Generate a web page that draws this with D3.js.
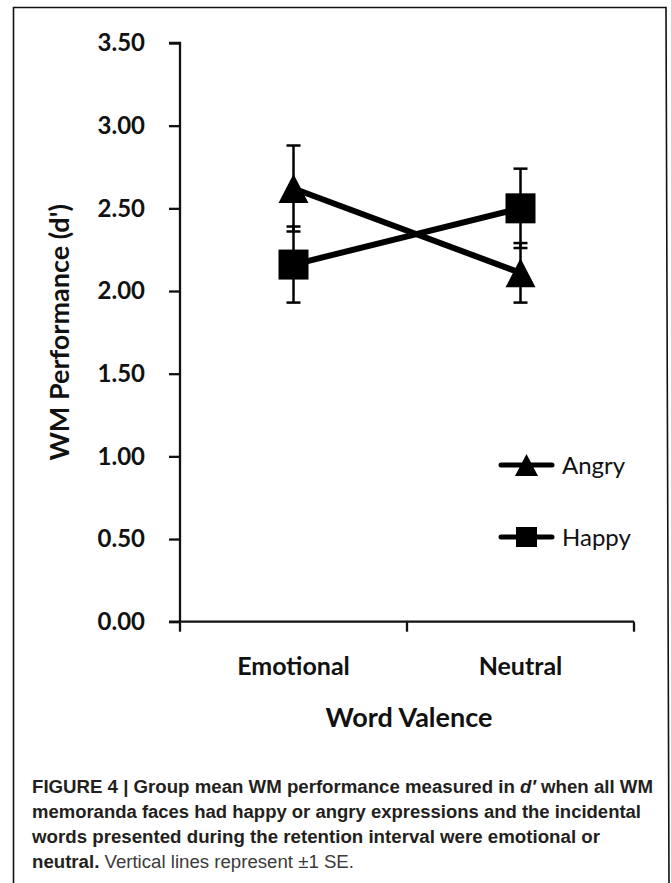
<!DOCTYPE html>
<html>
<head>
<meta charset="utf-8">
<script src="https://cdn.jsdelivr.net/npm/d3@7"></script>
<style>
  html, body { margin: 0; padding: 0; background: #fff; }
  svg { display: block; }
</style>
</head>
<body>
<script>
// values
var categories = ["Emotional", "Neutral"];
var seriesNames = ["Angry", "Happy"];
var angryMean = [2.62, 2.11];
var angrySE = [0.26, 0.18];
var happyMean = [2.16, 2.50];
var happySE = [0.23, 0.24];
var yTicks = [0, 0.5, 1, 1.5, 2, 2.5, 3, 3.5];

var captionLines = [
  [{ t: "FIGURE 4 | Group mean WM performance measured in ", b: 1 }, { t: "d\u2032", b: 1, i: 1 }, { t: " when all WM", b: 1 }],
  [{ t: "memoranda faces had happy or angry expressions and the incidental", b: 1 }],
  [{ t: "words presented during the retention interval were emotional or", b: 1 }],
  [{ t: "neutral.", b: 1 }, { t: " Vertical lines represent \u00b11 SE.", b: 0 }]
];
var captionWidths = [621, 609, 568, 322];

var W = 671, H = 883;
var svg = d3.select("body").append("svg")
    .attr("width", W)
    .attr("height", H);

// frame of the figure
svg.append("path")
    .attr("d", "M13.5,883 L13.5,7.5 L666,7.5 L669,883")
    .attr("fill", "none")
    .attr("stroke", "#111")
    .attr("stroke-width", 1.6);

var plotLeft = 180, plotRight = 634, plotTop = 43, plotBottom = 621.7;

var x = d3.scaleBand().domain(categories).range([plotLeft, plotRight]);
var y = d3.scaleLinear().domain([0, 3.5]).range([plotBottom, plotTop]);

var font = "Lato, 'Open Sans', sans-serif";

// y axis
var yAxis = svg.append("g")
    .attr("transform", "translate(" + plotLeft + ",0)")
    .call(d3.axisLeft(y).tickValues(yTicks).tickSize(11).tickPadding(24)
      .tickFormat(d3.format(".2f")));
yAxis.select(".domain").attr("stroke", "#111").attr("stroke-width", 2.3)
    .attr("d", "M-11," + y(3.5) + "H0V" + plotBottom);
yAxis.selectAll(".tick line").attr("stroke", "#111").attr("stroke-width", 2.3);
yAxis.selectAll(".tick text")
    .attr("font-family", font)
    .attr("font-weight", "bold")
    .attr("font-size", 24)
    .attr("fill", "#111");

// x axis, ticks between categories
var xAxisG = svg.append("g").attr("transform", "translate(0," + plotBottom + ")");
xAxisG.append("line")
    .attr("x1", plotLeft - 11).attr("x2", plotRight)
    .attr("stroke", "#111").attr("stroke-width", 2.3);
var bounds = [x.range()[0]].concat(categories.map(function(c) { return x(c) + x.bandwidth(); }));
xAxisG.selectAll(".xt").data(bounds).enter().append("line")
    .attr("x1", function(d) { return d; })
    .attr("x2", function(d) { return d; })
    .attr("y1", 0).attr("y2", 10)
    .attr("stroke", "#111").attr("stroke-width", 2.3);
xAxisG.selectAll(".xl").data(categories).enter().append("text")
    .attr("x", function(d) { return x(d) + x.bandwidth() / 2; })
    .attr("y", 53)
    .attr("text-anchor", "middle")
    .attr("font-family", font)
    .attr("font-weight", "bold")
    .attr("font-size", 25)
    .attr("fill", "#111")
    .text(function(d) { return d; });

// axis titles
svg.append("text")
    .attr("x", (plotLeft + plotRight) / 2 + 2).attr("y", 727)
    .attr("text-anchor", "middle")
    .attr("font-family", font).attr("font-weight", "bold").attr("font-size", 27)
    .attr("fill", "#111")
    .text("Word Valence");

svg.append("text")
    .attr("transform", "translate(69," + (plotTop + plotBottom) / 2 + ") rotate(-90)")
    .attr("text-anchor", "middle")
    .attr("font-family", font).attr("font-weight", "bold").attr("font-size", 27)
    .attr("fill", "#111")
    .text("WM Performance (d')");

function triangle(cx, cy, w, h) {
  var p = d3.path();
  p.moveTo(cx, cy - h / 2);
  p.lineTo(cx + w / 2, cy + h / 2);
  p.lineTo(cx - w / 2, cy + h / 2);
  p.closePath();
  return p.toString();
}

var series = [
  { name: seriesNames[0], mean: angryMean, se: angrySE, shape: "tri" },
  { name: seriesNames[1], mean: happyMean, se: happySE, shape: "sq" }
];

var cx = function(i) { return x(categories[i]) + x.bandwidth() / 2; };
var line = d3.line()
    .x(function(d, i) { return cx(i); })
    .y(function(d) { return y(d); });

// connecting lines
series.forEach(function(s) {
  svg.append("path")
      .attr("d", line(s.mean))
      .attr("fill", "none")
      .attr("stroke", "#000")
      .attr("stroke-width", 6);
});

// error bars
series.forEach(function(s) {
  var g = svg.append("g");
  s.mean.forEach(function(m, i) {
    var hi = y(m + s.se[i]), lo = y(m - s.se[i]);
    g.append("line").attr("x1", cx(i)).attr("x2", cx(i))
        .attr("y1", hi).attr("y2", lo)
        .attr("stroke", "#000").attr("stroke-width", 2.5);
    [hi, lo].forEach(function(v) {
      g.append("line").attr("x1", cx(i) - 7).attr("x2", cx(i) + 7)
          .attr("y1", v).attr("y2", v)
          .attr("stroke", "#000").attr("stroke-width", 2.5);
    });
  });
});

// markers
series.forEach(function(s) {
  s.mean.forEach(function(m, i) {
    if (s.shape === "tri") {
      svg.append("path").attr("d", triangle(cx(i), y(m), 30, 29)).attr("fill", "#000");
    } else {
      svg.append("rect")
          .attr("x", cx(i) - 15).attr("y", y(m) - 15)
          .attr("width", 30).attr("height", 30)
          .attr("fill", "#000");
    }
  });
});

// legend
var legend = svg.append("g");
var legendY = [465, 537];
series.forEach(function(s, k) {
  var ly = legendY[k];
  legend.append("line")
      .attr("x1", 501).attr("x2", 552)
      .attr("y1", ly).attr("y2", ly)
      .attr("stroke", "#000").attr("stroke-width", 5)
      .attr("stroke-linecap", "round");
  if (s.shape === "tri") {
    legend.append("path").attr("d", triangle(526.5, ly, 23, 22)).attr("fill", "#000");
  } else {
    legend.append("rect").attr("x", 516).attr("y", ly - 10)
        .attr("width", 21).attr("height", 20).attr("fill", "#000");
  }
  legend.append("text")
      .attr("x", 562).attr("y", ly + 8.5)
      .attr("font-family", font).attr("font-size", 24)
      .attr("fill", "#111")
      .text(s.name);
});

// caption
var capFont = "'Liberation Sans', Arial, sans-serif";
captionLines.forEach(function(parts, k) {
  var t = svg.append("text")
      .attr("x", 32).attr("y", 793 + k * 25)
      .attr("font-family", capFont)
      .attr("font-size", 18)
      .attr("fill", "#231f20")
      .attr("textLength", captionWidths[k])
      .attr("lengthAdjust", "spacingAndGlyphs");
  parts.forEach(function(p) {
    t.append("tspan")
        .attr("font-weight", p.b ? "bold" : "normal")
        .attr("font-style", p.i ? "italic" : "normal")
        .attr("fill", p.b ? "#231f20" : "#3a3a3a")
        .text(p.t);
  });
});
</script>
</body>
</html>
